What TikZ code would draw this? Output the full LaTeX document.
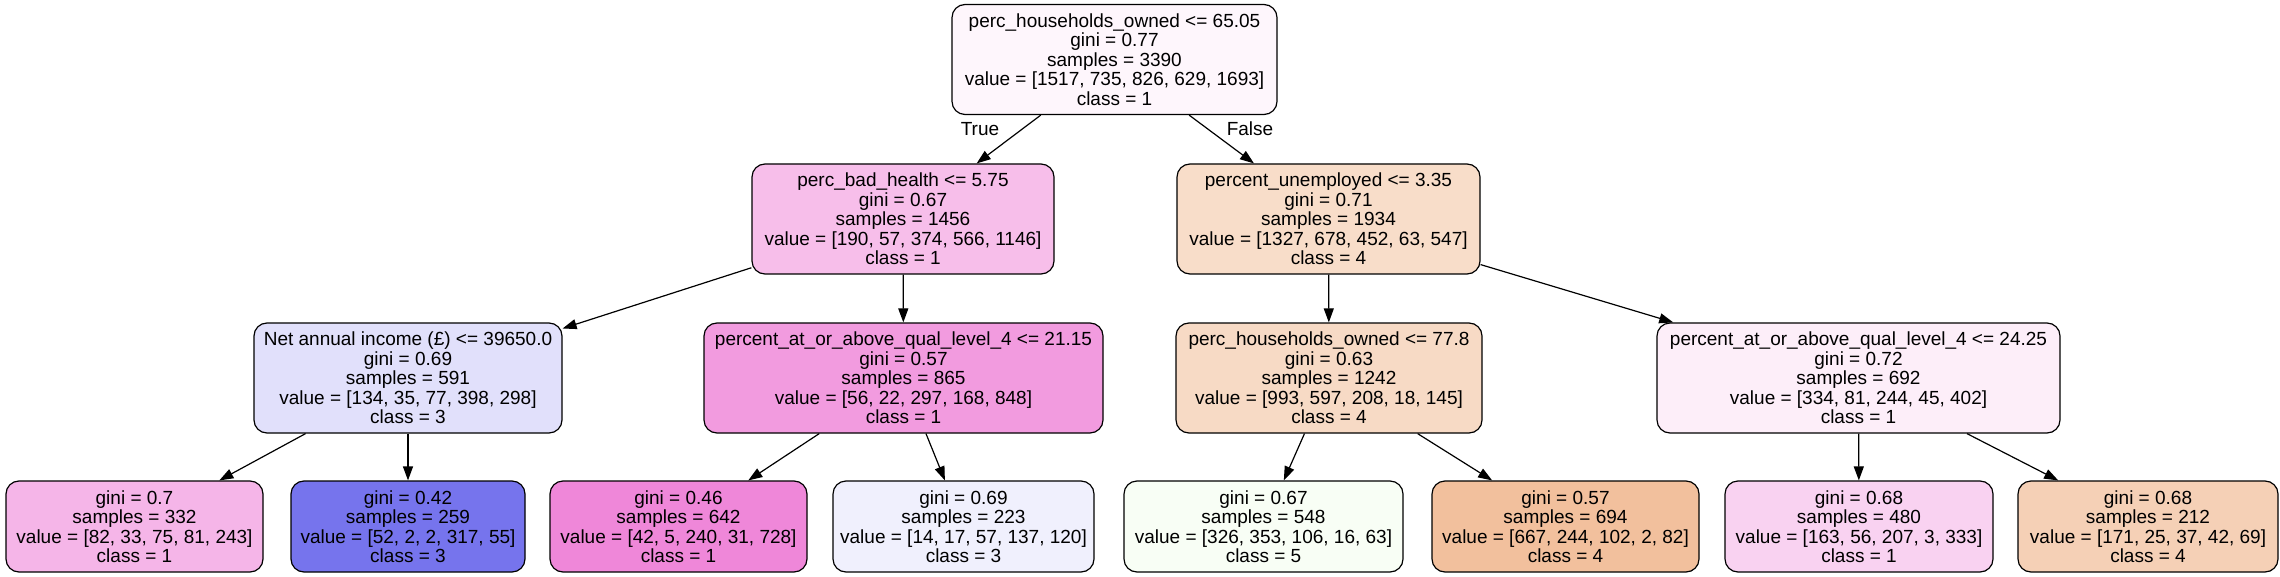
\documentclass[tikz,border=0pt]{standalone}
\usepackage{fontspec}
\setmainfont{Liberation Sans}
\usetikzlibrary{arrows.meta}
\definecolor{fillRoot}{HTML}{FEF6FC}
\definecolor{fillHealth}{HTML}{F7BEEA}
\definecolor{fillUnemp}{HTML}{F8DDC9}
\definecolor{fillIncome}{HTML}{E1E0FB}
\definecolor{fillQualA}{HTML}{F29BDF}
\definecolor{fillOwned}{HTML}{F7DAC5}
\definecolor{fillQualB}{HTML}{FDEEF9}
\definecolor{fillLeafA}{HTML}{F5B5E8}
\definecolor{fillLeafB}{HTML}{7674ED}
\definecolor{fillLeafC}{HTML}{EF87D9}
\definecolor{fillLeafD}{HTML}{F0F0FD}
\definecolor{fillLeafE}{HTML}{F8FEF5}
\definecolor{fillLeafF}{HTML}{F2C09D}
\definecolor{fillLeafG}{HTML}{F9D2F1}
\definecolor{fillLeafH}{HTML}{F5D0B6}
\begin{document}
\begin{tikzpicture}[x=0.5pt,y=-0.5pt]

    \tikzset{
      split/.style={
        draw,
        rounded corners=6.5pt,
        line width=0.6pt,
        align=center,
        inner sep=0pt,
        minimum height=55pt,
        font=\fontsize{9.5}{9.75}\selectfont,
      },
      leaf/.style={
        split,
        minimum height=45.5pt,
      },
      branch/.style={
        line width=0.6pt,
        -{Triangle[length=7pt,width=5pt]},
      },
      side/.style={
        font=\fontsize{9.5}{9.75}\selectfont,
        inner sep=0pt,
      },
    }
    \useasboundingbox (0,0) rectangle (2280,577);
	\node[split, fill=fillRoot, minimum width=162.5pt] (root) at (1114.5,59.5) {perc\_households\_owned <= 65.05\\gini = 0.77\\samples = 3390\\value = [1517, 735, 826, 629, 1693]\\class = 1};
	\node[split, fill=fillHealth, minimum width=151pt] (health) at (903,219) {perc\_bad\_health <= 5.75\\gini = 0.67\\samples = 1456\\value = [190, 57, 374, 566, 1146]\\class = 1};
	\node[split, fill=fillUnemp, minimum width=151.5pt] (unemp) at (1328.5,219) {percent\_unemployed <= 3.35\\gini = 0.71\\samples = 1934\\value = [1327, 678, 452, 63, 547]\\class = 4};
	\node[split, fill=fillIncome, minimum width=154pt] (income) at (408,378) {Net annual income (£) <= 39650.0\\gini = 0.69\\samples = 591\\value = [134, 35, 77, 398, 298]\\class = 3};
	\node[split, fill=fillQualA, minimum width=199.5pt] (qualA) at (903.5,378) {percent\_at\_or\_above\_qual\_level\_4 <= 21.15\\gini = 0.57\\samples = 865\\value = [56, 22, 297, 168, 848]\\class = 1};
	\node[split, fill=fillOwned, minimum width=153pt] (owned) at (1329,378) {perc\_households\_owned <= 77.8\\gini = 0.63\\samples = 1242\\value = [993, 597, 208, 18, 145]\\class = 4};
	\node[split, fill=fillQualB, minimum width=201.5pt] (qualB) at (1858.5,378) {percent\_at\_or\_above\_qual\_level\_4 <= 24.25\\gini = 0.72\\samples = 692\\value = [334, 81, 244, 45, 402]\\class = 1};
	\node[leaf, fill=fillLeafA, minimum width=128.5pt] (leafA) at (134.5,526.5) {gini = 0.7\\samples = 332\\value = [82, 33, 75, 81, 243]\\class = 1};
	\node[leaf, fill=fillLeafB, minimum width=117pt] (leafB) at (408,526.5) {gini = 0.42\\samples = 259\\value = [52, 2, 2, 317, 55]\\class = 3};
	\node[leaf, fill=fillLeafC, minimum width=128.5pt] (leafC) at (678.5,526.5) {gini = 0.46\\samples = 642\\value = [42, 5, 240, 31, 728]\\class = 1};
	\node[leaf, fill=fillLeafD, minimum width=130.5pt] (leafD) at (963.5,526.5) {gini = 0.69\\samples = 223\\value = [14, 17, 57, 137, 120]\\class = 3};
	\node[leaf, fill=fillLeafE, minimum width=139.5pt] (leafE) at (1263.5,526.5) {gini = 0.67\\samples = 548\\value = [326, 353, 106, 16, 63]\\class = 5};
	\node[leaf, fill=fillLeafF, minimum width=133.5pt] (leafF) at (1565.5,526.5) {gini = 0.57\\samples = 694\\value = [667, 244, 102, 2, 82]\\class = 4};
	\node[leaf, fill=fillLeafG, minimum width=134pt] (leafG) at (1859,526.5) {gini = 0.68\\samples = 480\\value = [163, 56, 207, 3, 333]\\class = 1};
	\node[leaf, fill=fillLeafH, minimum width=130pt] (leafH) at (2148,526.5) {gini = 0.68\\samples = 212\\value = [171, 25, 37, 42, 69]\\class = 4};
	\node[side] (true) at (980,129) {True};
	\node[side] (false) at (1250,129) {False};
	\draw[branch] (root) -- (health);
	\draw[branch] (root) -- (unemp);
	\draw[branch] (health) -- (income);
	\draw[branch] (health) -- (qualA);
	\draw[branch] (unemp) -- (owned);
	\draw[branch] (unemp) -- (qualB);
	\draw[branch] (income) -- (leafA);
	\draw[branch] (income) -- (leafB);
	\draw[branch] (qualA) -- (leafC);
	\draw[branch] (qualA) -- (leafD);
	\draw[branch] (owned) -- (leafE);
	\draw[branch] (owned) -- (leafF);
	\draw[branch] (qualB) -- (leafG);
	\draw[branch] (qualB) -- (leafH);

\end{tikzpicture}
\end{document}
